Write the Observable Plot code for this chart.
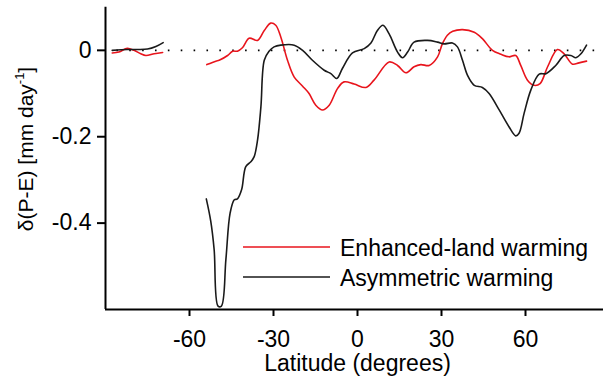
<!DOCTYPE html>
<html>
<head>
<meta charset="utf-8">
<script src="https://cdn.jsdelivr.net/npm/d3@7"></script>
<script src="https://cdn.jsdelivr.net/npm/@observablehq/plot@0.6"></script>
<style>
  html, body { margin: 0; padding: 0; background: white; overflow: hidden; }
</style>
</head>
<body>
<div id="chart"></div>
<script>
// Enhanced-land warming (red), southern high-latitude segment
const redLat1 = [-87.6, -85.2, -82.2, -79.8, -77.4, -75.6, -72.6, -69.6];
const redVal1 = [-0.006, -0.004, 0.005, 0.0, -0.008, -0.012, -0.008, -0.005];
// Enhanced-land warming (red), main segment
const redLat2 = [-53.8, -50.6, -49.4, -46.4, -44.6, -42.9, -41.1, -38.7, -35.7, -33.3, -31.0, -29.2, -27.4, -25.0, -22.6, -19.6, -17.3, -14.9, -12.5, -10.1, -7.1, -4.8, -1.2, 3.0, 5.9, 11.3, 14.3, 17.3, 20.2, 22.6, 25.6, 28.6, 30.3, 32.1, 34.0, 37.5, 41.7, 44.6, 48.2, 51.2, 54.1, 56.5, 58.3, 60.7, 63.1, 65.2, 67.9, 71.4, 73.8, 76.8, 79.1, 81.8];
const redVal2 = [-0.033, -0.025, -0.023, -0.012, -0.002, -0.002, 0.006, 0.028, 0.023, 0.046, 0.063, 0.058, 0.031, -0.023, -0.062, -0.083, -0.1, -0.127, -0.138, -0.127, -0.088, -0.073, -0.078, -0.086, -0.069, -0.027, -0.035, -0.052, -0.038, -0.033, -0.035, -0.015, 0.015, 0.035, 0.044, 0.048, 0.042, 0.027, 0.0, -0.009, -0.015, -0.012, -0.035, -0.069, -0.081, -0.077, -0.038, 0.002, -0.008, -0.032, -0.029, -0.025];
// Asymmetric warming (black), southern high-latitude segment
const blackLat1 = [-87.6, -82.2, -78.6, -75.0, -72.0, -69.4];
const blackVal1 = [0.0, 0.002, 0.002, 0.003, 0.009, 0.018];
// Asymmetric warming (black), main segment
const blackLat2 = [-54.0, -52.4, -51.2, -49.8, -48.6, -47.0, -45.5, -44.0, -42.9, -41.4, -39.9, -38.1, -36.9, -35.7, -34.5, -33.3, -31.6, -29.8, -27.4, -22.6, -19.6, -16.1, -11.9, -9.5, -7.4, -5.4, -1.8, 2.4, 4.8, 7.1, 9.1, 11.3, 14.3, 16.1, 17.9, 20.2, 25.0, 28.6, 30.9, 33.9, 35.7, 37.5, 39.3, 41.7, 44.6, 47.0, 50.6, 54.1, 56.5, 57.7, 59.5, 61.9, 64.9, 67.3, 70.8, 73.8, 76.2, 78.0, 79.8, 81.8];
const blackVal2 = [-0.344, -0.396, -0.461, -0.592, -0.592, -0.484, -0.377, -0.346, -0.344, -0.323, -0.269, -0.258, -0.246, -0.208, -0.131, -0.023, -0.002, 0.008, 0.012, 0.012, 0.0, -0.023, -0.046, -0.054, -0.065, -0.042, -0.006, 0.004, 0.017, 0.046, 0.058, 0.038, -0.004, -0.017, -0.004, 0.019, 0.023, 0.019, 0.015, 0.017, 0.008, -0.023, -0.058, -0.081, -0.086, -0.1, -0.138, -0.177, -0.198, -0.192, -0.146, -0.092, -0.055, -0.054, -0.035, -0.012, -0.012, -0.017, -0.008, 0.012];

const xTicks = [-60, -30, 0, 30, 60];
const yTicks = [0, -0.2, -0.4];
const seriesNames = ["Enhanced-land warming", "Asymmetric warming"];
const seriesColors = ["#e8141c", "#1a1a1a"];
const xLabel = "Latitude (degrees)";

const FONT = "'Liberation Sans', Arial, Helvetica, sans-serif";

function seg(lat, val, color) {
  return Plot.line(lat.map((_, i) => i), {
    x: i => lat[i], y: i => val[i],
    stroke: color, strokeWidth: 1.6, curve: "catmull-rom"
  });
}

const chart = Plot.plot({
  width: 603,
  height: 383,
  marginLeft: 105,
  marginRight: -6,
  marginTop: 6.65,
  marginBottom: 74,
  style: { fontFamily: FONT, fontSize: "23px", color: "black", background: "white", overflow: "hidden" },
  x: { domain: [-90, 90] },
  y: { domain: [-0.6, 0.1] },
  marks: [
    Plot.ruleY([0], { stroke: "black", strokeWidth: 1.6, strokeDasharray: "1.6,11.27", strokeDashoffset: 1.5 }),
    seg(redLat1, redVal1, seriesColors[0]),
    seg(redLat2, redVal2, seriesColors[0]),
    seg(blackLat1, blackVal1, seriesColors[1]),
    seg(blackLat2, blackVal2, seriesColors[1]),
    Plot.axisX({ ticks: xTicks, tickSize: 7, tickPadding: 14, strokeWidth: 2, label: null, tickFormat: d => String(d) }),
    Plot.axisY({ ticks: yTicks, tickSize: 8, tickPadding: 6, strokeWidth: 2, label: null, tickFormat: d => d === 0 ? "0" : d.toFixed(1) }),
    Plot.ruleX([-90], { stroke: "black", strokeWidth: 2 }),
    Plot.ruleY([-0.6], { stroke: "black", strokeWidth: 2 }),
    Plot.text([xLabel], { text: d => d, frameAnchor: "bottom", dy: 54, lineAnchor: "middle", fontSize: 23, fill: "black" })
  ]
});

const svg = d3.select(chart);
// y-axis label with superscript
const yl = svg.append("text")
  .attr("transform", "translate(33,149) rotate(-90)")
  .attr("text-anchor", "middle")
  .attr("font-size", 21)
  .attr("font-family", FONT)
  .attr("fill", "black");
yl.append("tspan").text("δ(P-E) [mm day");
yl.append("tspan").attr("font-size", 13).attr("dy", -9).text("-1");
yl.append("tspan").attr("dy", 9).text("]");

// legend
const lg = svg.append("g").attr("font-family", FONT).attr("font-size", 23).attr("text-anchor", "start");
const legY = [247, 277];
seriesNames.forEach((name, i) => {
  lg.append("line").attr("x1", 243).attr("x2", 330).attr("y1", legY[i]).attr("y2", legY[i])
    .attr("stroke", seriesColors[i]).attr("stroke-width", 1.6);
  lg.append("text").attr("x", 340).attr("y", legY[i] + 8.5).attr("text-anchor", "start").attr("fill", "black").text(name);
});

document.getElementById("chart").appendChild(chart);
</script>
</body>
</html>
